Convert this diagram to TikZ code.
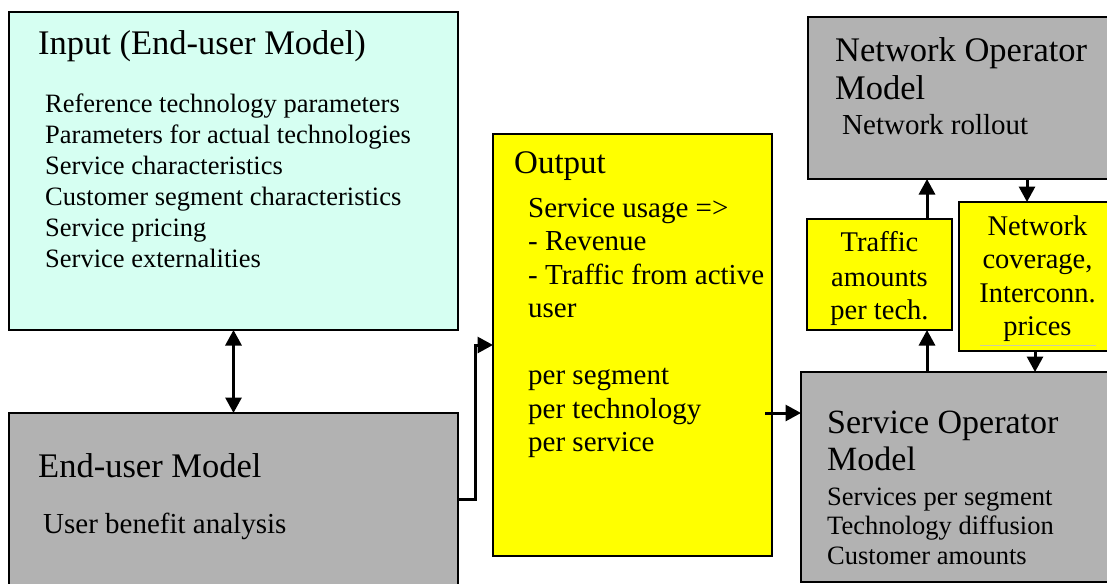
\documentclass[tikz,border=0pt]{standalone}
\usepackage{fontspec}
\setmainfont{Liberation Serif}
\usetikzlibrary{arrows.meta}
\definecolor{inputcyan}{RGB}{214,255,242}
\definecolor{modelgray}{RGB}{178,178,178}
\definecolor{outyellow}{RGB}{255,255,0}
\definecolor{faintrule}{RGB}{205,205,160}
\begin{document}
\begin{tikzpicture}[x=1pt,y=-1pt,
  >={Triangle[length=15.5pt,width=16pt]},
  box/.style={draw=black, line width=1.5pt, rectangle, inner sep=0pt, outer sep=0pt, anchor=north west},
  conn/.style={line width=3pt, ->},
  bigtext/.style={font=\fontsize{34.5}{40}\selectfont, inner sep=0pt, anchor=base west},
  midtext/.style={font=\fontsize{29}{33}\selectfont, inner sep=0pt, anchor=base west},
  smalltext/.style={font=\fontsize{26.5}{30}\selectfont, inner sep=0pt, anchor=base west},
  tagtext/.style={font=\fontsize{28.5}{33}\selectfont, inner sep=0pt, anchor=base},
]
\useasboundingbox (0,0) rectangle (1107,583);
\clip (0,0) rectangle (1107,583);

% boxes
\node[box, fill=inputcyan, minimum width=449pt, minimum height=318pt] (inp) at (9,12) {};
\node[box, fill=modelgray, minimum width=449pt, minimum height=190pt] (eum) at (9,413) {};
\node[box, fill=outyellow, minimum width=279pt, minimum height=422pt] (out) at (493,134) {};
\node[box, fill=modelgray, minimum width=315pt, minimum height=162pt] (nom) at (808,17) {};
\node[box, fill=outyellow, minimum width=145pt, minimum height=111pt] (trf) at (807,219) {};
\node[box, fill=outyellow, minimum width=159pt, minimum height=149pt] (cov) at (959,202) {};
\node[box, fill=modelgray, minimum width=320pt, minimum height=210pt] (som) at (801,372) {};

% input box text
\node[bigtext] (inp-title) at (38,55) {Input (End-user Model)};
\foreach \s [count=\i] in {Reference technology parameters,
    Parameters for actual technologies,
    Service characteristics,
    Customer segment characteristics,
    Service pricing,
    Service externalities}
  \node[smalltext] (inp-\i) at (45,{112.5+30.9*(\i-1)}) {\s};

% end-user model text
\node[bigtext] (eum-title) at (38,477) {End-user Model};
\node[midtext] (eum-1) at (43,533) {User benefit analysis};

% output text
\node[bigtext, font=\fontsize{33}{38}\selectfont] (out-title) at (514,173) {Output};
\node[midtext] (out-1) at (528,217) {Service usage =>};
\node[midtext] (out-2) at (528,250.5) {- Revenue};
\node[midtext] (out-3) at (528,284) {- Traffic from active};
\node[midtext] (out-4) at (528,317.5) {user};
\node[midtext] (out-5) at (528,384.5) {per segment};
\node[midtext] (out-6) at (528,418) {per technology};
\node[midtext] (out-7) at (528,451.5) {per service};

% network operator text
\node[bigtext] (nom-title1) at (835,62) {Network Operator};
\node[bigtext] (nom-title2) at (835,100) {Model};
\node[midtext] (nom-1) at (842,135) {Network rollout};

% traffic tag
\node[tagtext] (trf-1) at (879.5,251) {Traffic};
\node[tagtext] (trf-2) at (879.5,286) {amounts};
\node[tagtext] (trf-3) at (879.5,319) {per tech.};

% coverage tag
\node[tagtext] (cov-1) at (1037.5,235) {Network};
\node[tagtext] (cov-2) at (1037.5,268.5) {coverage,};
\node[tagtext] (cov-3) at (1037.5,302) {Interconn.};
\node[tagtext] (cov-4) at (1037.5,335.5) {prices};
\draw[line width=0.6pt, faintrule] (980,345) -- (1096,345);

% service operator text
\node[bigtext, font=\fontsize{34}{40}\selectfont] (som-title1) at (827,433) {Service Operator};
\node[bigtext, font=\fontsize{34}{40}\selectfont] (som-title2) at (827,470) {Model};
\node[smalltext] (som-1) at (827,505) {Services per segment};
\node[smalltext] (som-2) at (827,534.5) {Technology diffusion};
\node[smalltext] (som-3) at (827,564) {Customer amounts};

% connectors
\draw[line width=3pt, <->] (inp.south) -- (eum.north);

\coordinate (bendA) at (475,499);
\coordinate (bendB) at (475,345);
\draw[conn] (eum.east |- bendA) -- (bendA) -- (bendB) -- (out.west |- bendB);

\coordinate (ostart) at (765,413);
\draw[conn] (ostart) -- (som.west |- ostart);

\coordinate (tx) at (927,0);
\draw[conn] (som.north -| tx) -- (trf.south -| tx);
\draw[conn] (trf.north -| tx) -- (nom.south -| tx);

\coordinate (cx1) at (1027,0);
\draw[conn] (nom.south -| cx1) -- (cov.north -| cx1);
\coordinate (cx2) at (1035,0);
\draw[conn] (cov.south -| cx2) -- (som.north -| cx2);
\end{tikzpicture}
\end{document}
